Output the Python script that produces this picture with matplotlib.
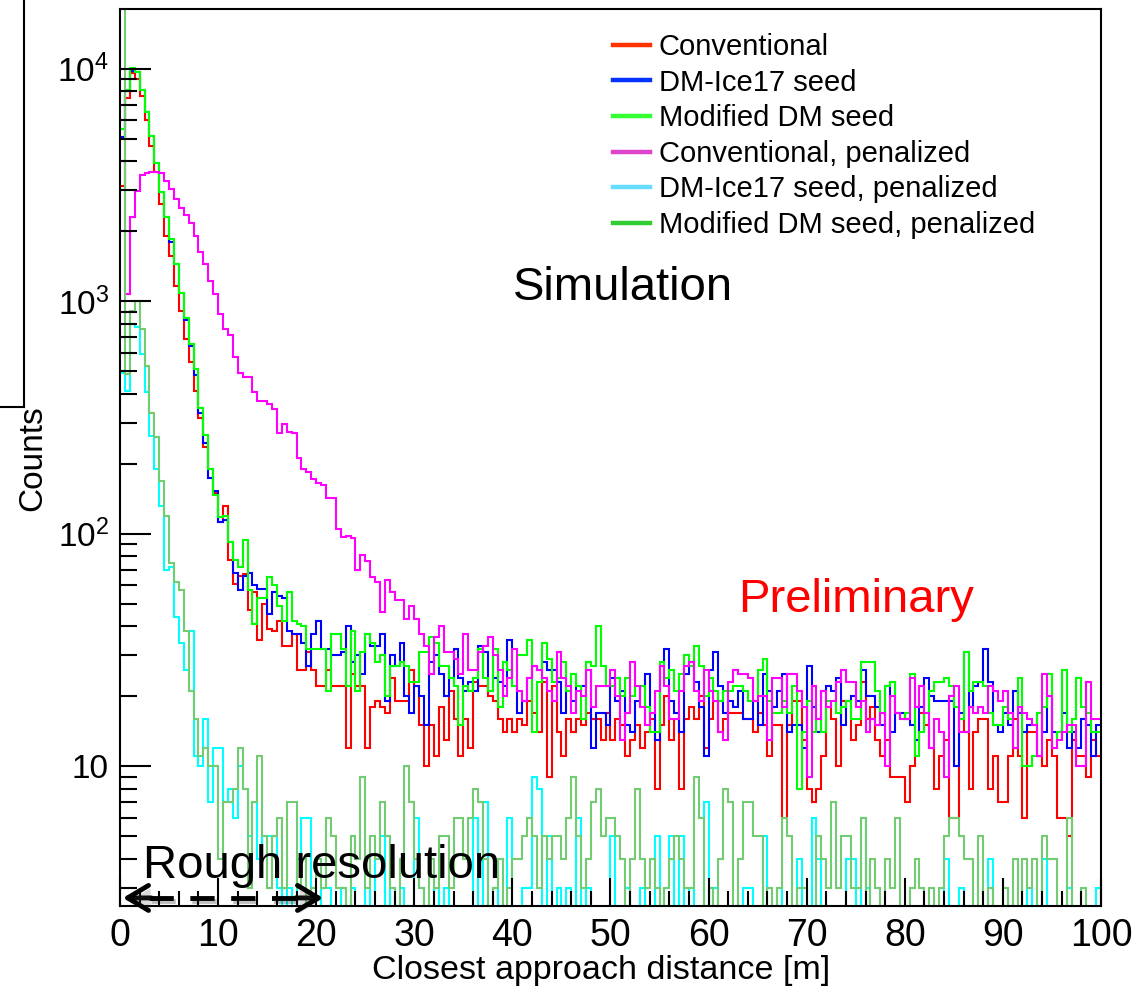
import numpy as np
import matplotlib
matplotlib.use("Agg")
import matplotlib.pyplot as plt
import matplotlib.patheffects as pe
from matplotlib.lines import Line2D
from matplotlib.ticker import (FixedLocator, FixedFormatter, LogLocator,
                               MultipleLocator, NullFormatter)

plt.rcParams['font.family'] = ['Liberation Sans', 'DejaVu Sans']
plt.rcParams['mathtext.fontset'] = 'custom'
plt.rcParams['mathtext.rm'] = 'Liberation Sans'

# 200 bins of 0.5 m between 0 and 100 m
edges = np.linspace(0, 100, 201)

conventional = [
    3130, 7500, 9600, 9000, 7630, 6040, 4670, 3600, 2620, 1910,
    1570, 1160, 910, 686, 545, 410, 315, 237, 189, 150,
    112, 131, 77, 61, 66, 67, 47, 56, 35, 50,
    39, 38, 42, 33, 33, 37, 26, 26, 31, 26,
    22, 22, 26, 22, 22, 22, 12, 25, 22, 22,
    12, 18, 19, 18, 17, 24, 19, 19, 19, 26,
    22, 15, 10, 15, 11, 18, 13, 21, 16, 11,
    16, 12, 23, 22, 22, 20, 19, 16, 14, 16,
    14, 16, 15, 19, 17, 14, 23, 9, 22, 14,
    11, 16, 14, 16, 15, 17, 16, 16, 13, 17,
    13, 16, 15, 11, 13, 15, 12, 14, 16, 8,
    15, 20, 13, 16, 8, 16, 18, 16, 20, 12,
    16, 19, 14, 16, 17, 17, 17, 16, 16, 14,
    17, 15, 11, 15, 15, 6, 15, 19, 19, 13,
    8, 7, 8, 11, 18, 16, 10, 19, 19, 13,
    15, 23, 16, 18, 13, 11, 13, 9, 9, 9,
    7, 10, 13, 17, 15, 12, 8, 11, 13, 6,
    6, 16, 14, 8, 14, 16, 16, 8, 11, 7,
    7, 11, 16, 11, 6, 14, 14, 11, 10, 13,
    11, 6, 6, 5, 13, 11, 11, 9, 13, 11,
]

dmice_seed = [
    5090, 8000, 9800, 9720, 8130, 6550, 5130, 3930, 2960, 2300,
    1800, 1440, 1080, 830, 640, 483, 332, 246, 174, 152,
    112, 115, 92, 68, 57, 66, 68, 60, 58, 58,
    45, 56, 54, 53, 38, 37, 37, 34, 27, 37,
    42, 32, 32, 30, 30, 31, 40, 28, 30, 25,
    37, 33, 33, 37, 19, 30, 27, 34, 20, 17,
    22, 20, 15, 28, 30, 25, 20, 24, 32, 24,
    21, 23, 21, 33, 31, 21, 24, 23, 22, 35,
    22, 17, 19, 24, 27, 26, 28, 26, 26, 23,
    17, 21, 19, 22, 22, 26, 12, 17, 17, 15,
    24, 19, 21, 15, 14, 19, 22, 25, 17, 13,
    27, 32, 19, 17, 14, 25, 28, 23, 18, 11,
    26, 31, 22, 17, 19, 18, 21, 16, 16, 19,
    15, 25, 21, 18, 21, 25, 14, 15, 15, 12,
    27, 18, 14, 21, 22, 21, 24, 15, 19, 20,
    19, 26, 20, 20, 18, 15, 22, 14, 17, 17,
    16, 15, 13, 18, 24, 20, 19, 19, 19, 19,
    10, 17, 31, 18, 22, 23, 32, 23, 15, 14,
    17, 15, 21, 17, 14, 15, 15, 17, 14, 20,
    14, 14, 17, 12, 14, 12, 16, 15, 11, 15,
]

modified_seed = [
    5510, 8100, 10100, 9720, 8130, 6550, 5130, 3930, 2960, 2300,
    1850, 1440, 1090, 850, 653, 509, 348, 267, 189, 146,
    118, 119, 92, 77, 72, 94, 57, 41, 53, 53,
    65, 60, 49, 42, 56, 42, 41, 40, 32, 32,
    32, 32, 21, 37, 37, 32, 22, 38, 21, 31,
    37, 34, 28, 30, 20, 27, 27, 28, 27, 23,
    23, 31, 31, 36, 34, 27, 27, 24, 22, 15,
    22, 21, 24, 32, 24, 21, 32, 18, 28, 26,
    22, 30, 30, 35, 14, 23, 34, 29, 23, 24,
    28, 21, 25, 22, 16, 28, 27, 40, 27, 22,
    22, 24, 20, 24, 20, 22, 22, 18, 14, 14,
    28, 24, 26, 21, 25, 30, 27, 33, 27, 20,
    24, 21, 19, 21, 21, 22, 22, 21, 19, 19,
    26, 29, 19, 17, 17, 19, 17, 22, 8, 14,
    19, 14, 16, 14, 19, 19, 17, 18, 19, 16,
    16, 28, 28, 28, 21, 17, 22, 23, 17, 16,
    17, 25, 11, 14, 17, 21, 23, 23, 24, 22,
    18, 16, 31, 21, 23, 23, 22, 17, 15, 15,
    18, 16, 12, 24, 10, 10, 11, 17, 18, 25,
    12, 14, 26, 14, 16, 24, 18, 17, 14, 14,
]

conventional_pen = [
    4000, 1070, 2300, 2990, 3480, 3550, 3600, 3600, 3550, 3300,
    3040, 2760, 2530, 2350, 2170, 1900, 1630, 1440, 1220, 1070,
    880, 757, 713, 575, 493, 474, 474, 405, 372, 372,
    360, 345, 270, 295, 274, 270, 212, 189, 184, 172,
    165, 162, 142, 142, 105, 97, 98, 96, 70, 81,
    76, 65, 62, 46, 63, 56, 52, 52, 43, 49,
    43, 37, 33, 25, 36, 40, 31, 31, 29, 25,
    37, 26, 26, 31, 33, 36, 30, 26, 20, 24,
    32, 21, 19, 24, 27, 26, 24, 21, 19, 31,
    24, 22, 17, 21, 20, 26, 18, 22, 22, 22,
    26, 20, 13, 17, 28, 22, 18, 15, 17, 21,
    27, 22, 16, 16, 21, 27, 28, 21, 19, 26,
    21, 19, 14, 13, 23, 26, 25, 25, 24, 19,
    20, 20, 13, 24, 24, 18, 25, 25, 21, 18,
    9, 22, 16, 21, 18, 19, 23, 26, 23, 23,
    18, 19, 14, 16, 15, 17, 10, 20, 17, 16,
    16, 24, 18, 22, 17, 12, 16, 14, 9, 20,
    22, 14, 14, 18, 17, 18, 17, 22, 21, 19,
    21, 17, 12, 18, 17, 16, 15, 11, 25, 20,
    12, 13, 14, 15, 15, 10, 10, 23, 16, 16,
]

dmice_seed_pen = [
    490, 410, 795, 775, 590, 405, 262, 189, 131, 70,
    72, 44, 34, 26, 38, 11, 10, 16, 7, 12,
    12, 7, 8, 6, 10, 8, 5, 7, 4, 5,
    5, 5, 3, 0, 3, 0, 4, 6, 6, 3,
    0, 3, 3, 0, 0, 3, 0, 3, 0, 0,
    3, 0, 4, 5, 0, 3, 0, 3, 0, 0,
    6, 3, 0, 0, 3, 0, 3, 0, 0, 0,
    0, 0, 6, 0, 7, 0, 3, 0, 0, 6,
    0, 0, 3, 3, 9, 8, 0, 5, 0, 3,
    0, 3, 0, 6, 0, 3, 0, 0, 0, 0,
    5, 0, 0, 3, 0, 0, 3, 0, 0, 5,
    0, 3, 5, 0, 5, 0, 3, 0, 0, 7,
    0, 3, 0, 0, 0, 0, 0, 3, 3, 0,
    0, 5, 0, 0, 3, 0, 0, 0, 4, 0,
    0, 6, 4, 0, 0, 0, 0, 0, 4, 4,
    0, 6, 3, 0, 0, 0, 0, 0, 0, 0,
    0, 0, 0, 0, 0, 0, 0, 0, 4, 0,
    0, 3, 0, 0, 0, 0, 0, 4, 0, 0,
    0, 0, 0, 0, 0, 3, 0, 0, 4, 0,
    0, 0, 0, 3, 0, 0, 0, 0, 0, 3,
]

modified_seed_pen = [
    25000, 484, 910, 998, 757, 526, 331, 261, 169, 119,
    75, 62, 57, 38, 21, 16, 11, 12, 10, 10,
    4, 7, 7, 8, 12, 8, 3, 7, 11, 5,
    3, 5, 6, 3, 7, 7, 3, 4, 0, 3,
    4, 3, 6, 5, 3, 3, 0, 5, 4, 9,
    3, 5, 4, 7, 5, 3, 0, 4, 10, 7,
    4, 3, 0, 4, 3, 5, 5, 3, 6, 6,
    4, 6, 8, 7, 4, 0, 3, 4, 0, 3,
    4, 4, 5, 6, 5, 3, 5, 4, 5, 5,
    4, 6, 9, 5, 3, 4, 7, 8, 5, 6,
    6, 5, 4, 0, 4, 8, 4, 3, 4, 3,
    0, 3, 4, 5, 4, 3, 3, 9, 6, 0,
    3, 0, 4, 8, 7, 0, 4, 7, 7, 5,
    5, 0, 3, 0, 3, 6, 5, 0, 3, 3,
    0, 0, 5, 4, 3, 7, 3, 5, 5, 3,
    3, 6, 0, 4, 3, 0, 4, 3, 6, 0,
    0, 3, 4, 3, 0, 3, 0, 3, 5, 6,
    6, 5, 4, 4, 0, 5, 0, 3, 0, 0,
    3, 0, 4, 0, 4, 3, 4, 0, 5, 4,
    4, 0, 0, 6, 0, 0, 3, 0, 0, 0,
]

labels = ["Conventional", "DM-Ice17 seed", "Modified DM seed",
          "Conventional, penalized", "DM-Ice17 seed, penalized",
          "Modified DM seed, penalized"]
hist_colors = ["#ff0000", "#0000ff", "#00ff00", "#ff00ff", "#00ffff", "#72cc72"]
legend_colors = ["#ff3300", "#0033ff", "#33ff33", "#dd44cc", "#66ddff", "#33cc33"]
all_counts = [conventional, dmice_seed, modified_seed,
              conventional_pen, dmice_seed_pen, modified_seed_pen]

fig = plt.figure(figsize=(11.46, 9.88), dpi=100)
ax = fig.add_axes([0.1047, 0.0830, 0.856, 0.9074])

for counts, col in zip(all_counts, hist_colors):
    # empty bins sit below the lower edge of the log axis
    ax.stairs(np.clip(np.array(counts, dtype=float), 1, None), edges,
              baseline=None, color=col, lw=1.5)

ax.set_yscale('log')
ax.set_xlim(0, 100)
ax.set_ylim(2.5, 18000)

ax.xaxis.set_major_locator(MultipleLocator(10))
ax.xaxis.set_minor_locator(MultipleLocator(2))
ax.yaxis.set_major_locator(FixedLocator([10, 100, 1000, 10000]))
ax.yaxis.set_major_formatter(FixedFormatter(
    ['10', r'$\mathdefault{10^{2}}$', r'$\mathdefault{10^{3}}$', r'$\mathdefault{10^{4}}$']))
ax.yaxis.set_minor_locator(LogLocator(base=10, subs=np.arange(2, 10)))
ax.yaxis.set_minor_formatter(NullFormatter())

ax.tick_params(axis='x', which='major', direction='in', length=20, width=1.5,
               labelsize=27, pad=9, top=False)
ax.tick_params(axis='x', which='minor', direction='in', length=11, width=1.5, top=False)
ax.tick_params(axis='y', which='major', direction='in', length=22, width=1.5,
               labelsize=24, pad=8, right=False)
ax.tick_params(axis='y', which='minor', direction='in', length=12, width=1.5, right=False)
for sp in ax.spines.values():
    sp.set_linewidth(1.5)

ax.set_xlabel('Closest approach distance [m]', fontsize=24.5)
ax.xaxis.set_label_coords(0.49, -0.0545)
ax.set_ylabel('Counts', fontsize=24)
ax.yaxis.set_label_coords(-0.073, 0.5)

handles = [Line2D([], [], color=c, lw=3.2) for c in legend_colors]
fig.legend(handles, labels, loc='upper left', bbox_to_anchor=(0.535, 0.9666),
           frameon=False, fontsize=21, handlelength=1.28, handletextpad=0.28,
           labelspacing=0.26, borderpad=0, borderaxespad=0)

fig.text(0.5436, 0.6964, 'Simulation', fontsize=34, ha='center', va='baseline')
fig.text(0.747, 0.3806, 'Preliminary', fontsize=34, color='red',
         ha='center', va='baseline')
fig.text(0.1248, 0.1113, 'Rough resolution', fontsize=34, ha='left', va='baseline')

# dashed double arrow marking the resolution scale
tr = ax.get_xaxis_transform()
shadow = [pe.SimpleLineShadow(offset=(1.5, -2), alpha=0.25), pe.Normal()]
ax.plot([3.0, 18.2], [0.009, 0.009], transform=tr, color='black', lw=3.5,
        dashes=(5.0, 3.4), solid_capstyle='butt', dash_capstyle='butt',
        path_effects=shadow, clip_on=False)
for tip, tail in [(0.3, 3.2), (20.7, 17.9)]:
    ax.annotate('', xy=(tip, 0.009), xytext=(tail, 0.009),
                xycoords=tr, textcoords=tr,
                arrowprops=dict(arrowstyle='->,head_length=0.6,head_width=0.36',
                                lw=3.5, color='black', mutation_scale=25,
                                shrinkA=0, shrinkB=0,
                                path_effects=[pe.SimplePatchShadow(offset=(1.5, -2), alpha=0.2),
                                              pe.Normal()]))

# leftover frame edge in the upper left corner
fig.add_artist(Line2D([24 / 1146, 24 / 1146], [1.0, 1 - 407 / 988],
                      transform=fig.transFigure, color='black', lw=1.5))
fig.add_artist(Line2D([0, 24 / 1146], [1 - 407 / 988, 1 - 407 / 988],
                      transform=fig.transFigure, color='black', lw=1.5))

fig.savefig('out.png', dpi=100)
